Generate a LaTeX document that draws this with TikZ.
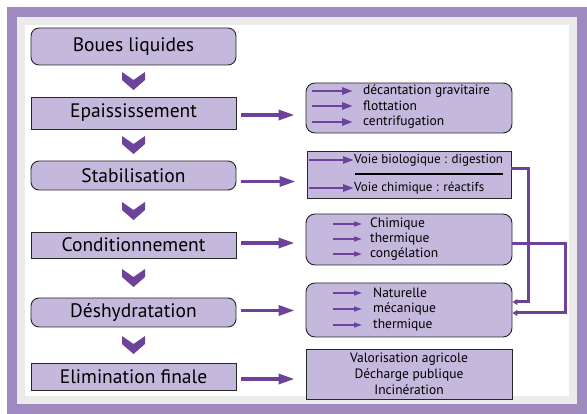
\documentclass[tikz,border=0pt]{standalone}
\usepackage{fontspec}
\setmainfont{PT Sans}
\usetikzlibrary{arrows.meta,calc}
\definecolor{lav}{RGB}{196,184,220}
\definecolor{plum}{RGB}{108,66,154}
\definecolor{framec}{RGB}{158,138,192}

% chevron between two stacked boxes
\newcommand\chev[2]{\fill[plum] ($(#1.south)!0.5!(#2.north)$) ++(-11.5,-9) -- ++(11.5,8) -- ++(11.5,-8)
    -- ++(0,8) -- ++(-11.5,10) -- ++(-11.5,-10) -- cycle;}

\begin{document}
\begin{tikzpicture}[x=1pt,y=-1pt]
        \tikzset{stage/.style={draw=black!85,line width=0.9pt,fill=lav,minimum width=205pt,font=\fontsize{19.5}{22}\selectfont},
            round/.style={stage,rounded corners=8pt},
            opbox/.style={draw=black!85,line width=0.9pt,fill=lav,minimum width=206pt,rounded corners=9pt},
            item/.style={anchor=west,inner sep=0pt,font=\fontsize{13.5}{15}\selectfont},
            flow/.style={plum,line width=3.2pt,-{Triangle[length=16pt,width=10pt]}},
            small/.style={plum,line width=2.6pt,-{Triangle[length=11pt,width=7pt]}},
            thin/.style={plum,line width=1.5pt,-{Triangle[length=8pt,width=5pt]}},
            link/.style={plum,line width=3pt,-{Triangle[length=5pt,width=6pt]}}}
        \useasboundingbox (0,0) rectangle (587,414);
        % frame
        \draw[black!8,line width=8pt] (21,21) rectangle (573,400);
        \draw[framec,line width=10pt] (12,12) rectangle (582,408.5);

        % main chain
        \node[round,minimum height=37pt] (boues) at (133.5,46.5) {Boues liquides};
        \node[stage,minimum height=32pt] (epais) at (133.5,113) {Epaississement};
        \node[round,minimum height=29pt] (stab) at (133.5,175.5) {Stabilisation};
        \node[stage,minimum height=26pt] (cond) at (133.5,245) {Conditionnement};
        \node[round,minimum height=29pt] (deshy) at (133.5,312.5) {Déshydratation};
        \node[stage,minimum height=27pt] (elim) at (133.5,376.5) {Elimination finale};
        \chev{boues}{epais}
        \chev{epais}{stab}
        \chev{stab}{cond}
        \chev{cond}{deshy}
        \chev{deshy}{elim}

        % right column
        \node[opbox,minimum height=50pt] (decant) at (409,108) {};
        \node[item] (d1) at (363,91) {décantation gravitaire};
        \node[item] (d2) at (363,106) {flottation};
        \node[item] (d3) at (363,122) {centrifugation};
        \foreach \t in {d1,d2,d3}
            \draw[small] ([xshift=-51pt]\t.west) -- ([xshift=-10pt]\t.west);

        \node[opbox,rounded corners=0pt,minimum width=204pt,minimum height=47pt] (voies) at (409,174.5) {};
        \node[item,font=\fontsize{13}{15}\selectfont] (v1) at (354,160) {Voie biologique : digestion};
        \node[item,font=\fontsize{13}{15}\selectfont] (v2) at (354,188) {Voie chimique : réactifs};
        \draw[line width=1.3pt] (355,174) -- (503,174);
        \foreach \t in {v1,v2}
            \draw[small] ([xshift=-45pt]\t.west) -- (\t.west);

        \node[opbox,minimum height=51pt] (condop) at (409,239.5) {};
        \node[item] (c1) at (370,224) {Chimique};
        \node[item] (c2) at (370,239) {thermique};
        \node[item] (c3) at (370,254) {congélation};
        \foreach \t in {c1,c2,c3}
            \draw[thin] ([xshift=-37pt]\t.west) -- ([xshift=-8pt]\t.west);

        \node[opbox,minimum height=54pt] (deshop) at (409,310) {};
        \node[item] (h1) at (373,293) {Naturelle};
        \node[item] (h2) at (373,309) {mécanique};
        \node[item] (h3) at (373,325) {thermique};
        \foreach \t in {h1,h2,h3}
            \draw[thin] ([xshift=-40pt]\t.west) -- ([xshift=-11pt]\t.west);

        \node[opbox,rounded corners=0pt,minimum height=50pt,align=center,
            font=\fontsize{13.5}{16}\selectfont] (final) at (409,374) {Valorisation agricole\\Décharge publique\\Incinération};

        % stage -> operations
        \foreach \a/\b/\s in {epais/decant/-2,stab/voies/-6,cond/condop/2,deshy/deshop/2,elim/final/-2.5}
            \draw[flow,shorten <=5pt,shorten >=11pt] ([yshift=\s pt]\a.east) -- ([yshift=\s pt]\a.east -| \b.west);

        % returns into dewatering
        \coordinate (in1) at ([yshift=8pt]deshop.east);
        \coordinate (in2) at ([yshift=-3pt]deshop.east);
        \draw[link] ([yshift=6pt]voies.east) -| ([xshift=16pt]in1) -- (in1);
        \draw[link] ([yshift=-4.5pt]condop.east) -| ([xshift=53pt]in2) -- (in2);
    \end{tikzpicture}
\end{document}
